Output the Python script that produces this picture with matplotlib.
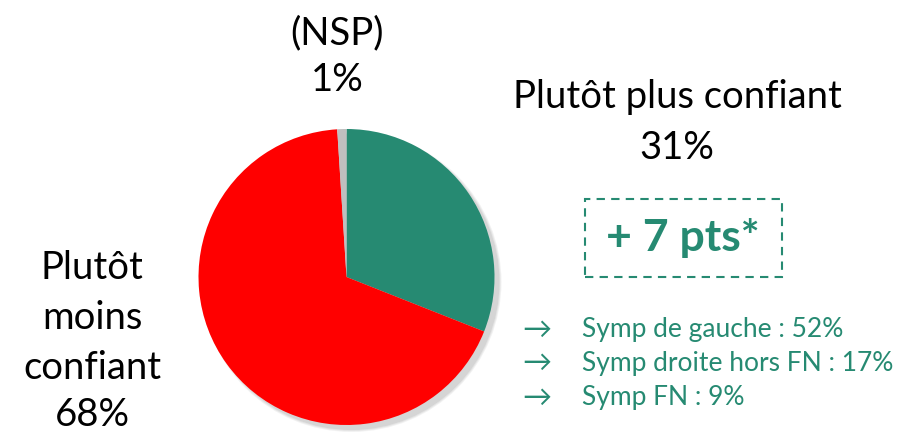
import matplotlib.pyplot as plt
from matplotlib.patches import Circle, Rectangle

# data
labels = ["Plutôt plus confiant", "Plutôt moins confiant", "(NSP)"]
values = [31, 68, 1]
colors = ["#268A72", "#FF0000", "#BFBFBF"]
details = ["Symp de gauche : 52%", "Symp droite hors FN : 17%", "Symp FN : 9%"]
delta = "+ 7 pts*"

GREEN = "#268A72"
W, H = 898, 434

plt.rcParams["font.family"] = ["Lato", "DejaVu Sans"]

fig = plt.figure(figsize=(W / 100, H / 100), dpi=100)
ax = fig.add_axes([0, 0, 1, 1])

cx, cy, r = 346.5, H - 277, 148

# soft shadow under the pie
for i, a in enumerate([0.10, 0.12, 0.15]):
    ax.add_patch(Circle((cx + 5, cy - 5), r + 2 - i, color="#808080", alpha=a, lw=0, zorder=0))

ax.pie(values, colors=colors, startangle=90, counterclock=False,
       center=(cx, cy), radius=r, frame=True,
       wedgeprops=dict(linewidth=0, zorder=1))

ax.set_xlim(0, W)
ax.set_ylim(0, H)
ax.set_aspect("equal")
ax.axis("off")

big = 27.5
ax.text(337, H - 33, labels[2], ha="center", va="center", fontsize=big)
ax.text(337, H - 80, f"{values[2]}%", ha="center", va="center", fontsize=big)

ax.text(677, H - 97, labels[0], ha="center", va="center", fontsize=big)
ax.text(677, H - 148, f"{values[0]}%", ha="center", va="center", fontsize=big)

for txt, y in zip(["Plutôt", "moins", "confiant", f"{values[1]}%"], [268, 318, 368, 415]):
    ax.text(92, H - y, txt, ha="center", va="center", fontsize=big)

# dashed box
ax.add_patch(Rectangle((585, H - 277), 197, 78, fill=False, ec=GREEN, lw=1.5,
                       ls=(0, (4, 3))))
ax.text(683, H - 238, delta, ha="center", va="center", fontsize=32,
        fontweight="bold", color=GREEN)

for txt, y in zip(details, [330, 363, 398]):
    ax.text(537, H - y, "→", ha="center", va="center", fontsize=21, color=GREEN)
    ax.text(582, H - y, txt, ha="left", va="center", fontsize=19, color=GREEN)

fig.savefig("out.png", dpi=100)
